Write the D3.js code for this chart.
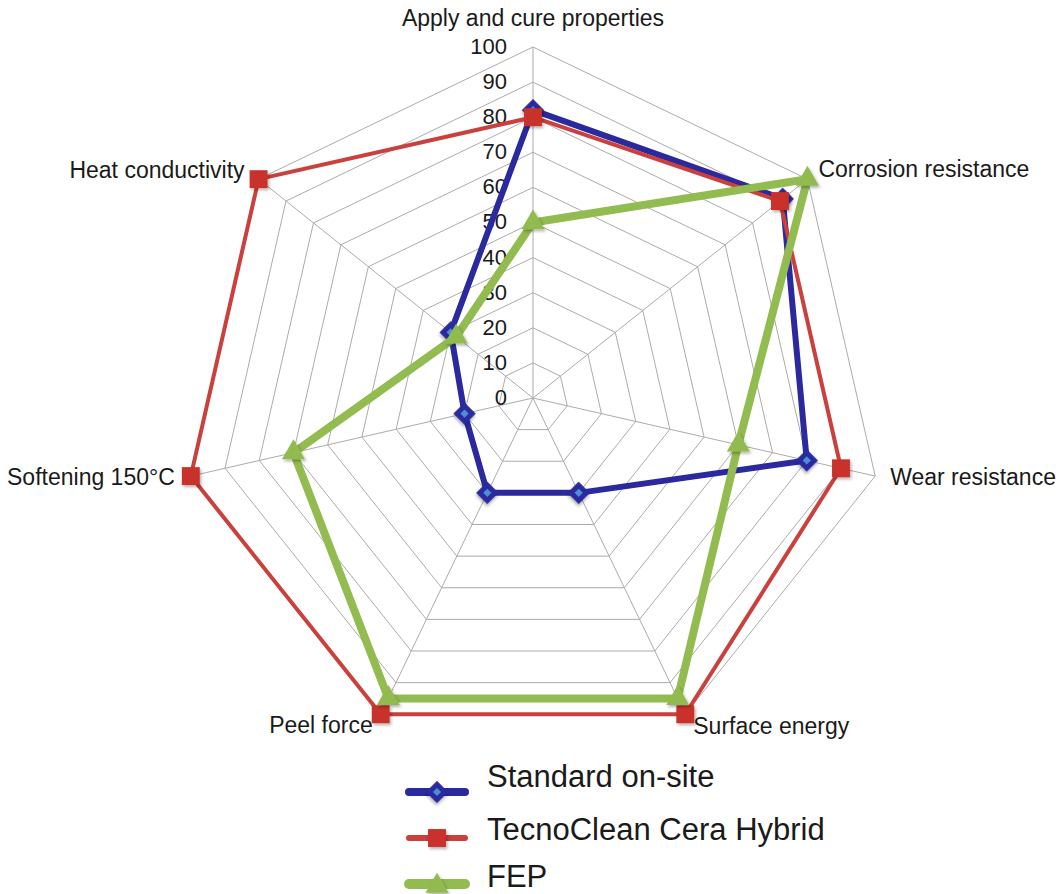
<!DOCTYPE html>
<html>
<head>
<meta charset="utf-8">
<script src="https://cdn.jsdelivr.net/npm/d3@7"></script>
<style>
  html, body { margin: 0; padding: 0; background: #fff; }
  svg { display: block; }
  text { font-family: "Liberation Sans", Arial, sans-serif; fill: #1a1a1a; }
</style>
</head>
<body>
<svg id="chart" width="1056" height="894"></svg>
<script>
// ---- data ----
const categories = ["Apply and cure properties", "Corrosion resistance", "Wear resistance",
  "Surface energy", "Peel force", "Softening 150°C", "Heat conductivity"];
const standardOnSite = [82, 91, 80, 30, 30, 20, 30];
const tecnoCleanCeraHybrid = [80, 90, 90, 100, 100, 100, 100];
const fep = [50, 100, 60, 95, 95, 70, 28];
const tickValues = [0, 10, 20, 30, 40, 50, 60, 70, 80, 90, 100];
const seriesNames = ["Standard on-site", "TecnoClean Cera Hybrid", "FEP"];

// ---- layout ----
const W = 1056, H = 894;
const cx = 533, cy = 398, R = 351;
const svg = d3.select("#chart");
const r = d3.scaleLinear().domain([0, 100]).range([0, R]);
const angle = d3.scaleLinear().domain([0, categories.length]).range([0, 2 * Math.PI]);
const px = (i, v) => cx + r(v) * Math.sin(angle(i));
const py = (i, v) => cy - r(v) * Math.cos(angle(i));

// shadow filter
const defs = svg.append("defs");
const f = defs.append("filter").attr("id", "sh").attr("x", "-50%").attr("y", "-50%").attr("width", "200%").attr("height", "200%");
f.append("feDropShadow").attr("dx", 1.5).attr("dy", 2).attr("stdDeviation", 1.5)
  .attr("flood-color", "#000").attr("flood-opacity", 0.3);

// ---- grid ----
const gridColor = "#ababab";
const grid = svg.append("g");
tickValues.filter(t => t > 0).forEach(t => {
  const pts = categories.map((c, i) => [px(i, t), py(i, t)]);
  grid.append("polygon")
    .attr("points", pts.map(p => p.join(",")).join(" "))
    .attr("fill", "none").attr("stroke", gridColor).attr("stroke-width", 1);
});
categories.forEach((c, i) => {
  grid.append("line")
    .attr("x1", cx).attr("y1", cy)
    .attr("x2", px(i, 100)).attr("y2", py(i, 100))
    .attr("stroke", gridColor).attr("stroke-width", 1);
});

// tick labels
svg.append("g").selectAll("text").data(tickValues).join("text")
  .attr("x", cx - 26).attr("y", d => cy - r(d) - 1)
  .attr("dy", "0.36em")
  .attr("text-anchor", "end")
  .attr("font-size", 22)
  .text(d => d);

// axis labels
const labelOffsets = [
  { dx: 0, dy: -21, anchor: "middle", base: "auto" },
  { dx: 11, dy: -10, anchor: "start", base: "middle" },
  { dx: 15, dy: 1, anchor: "start", base: "middle" },
  { dx: 8, dy: 20, anchor: "start", base: "auto" },
  { dx: -8, dy: 19, anchor: "end", base: "auto" },
  { dx: -16, dy: 1, anchor: "end", base: "middle" },
  { dx: -14, dy: -9, anchor: "end", base: "middle" }
];
svg.append("g").selectAll("text").data(categories).join("text")
  .attr("x", (d, i) => px(i, 100) + labelOffsets[i].dx)
  .attr("y", (d, i) => py(i, 100) + labelOffsets[i].dy)
  .attr("dy", (d, i) => labelOffsets[i].base === "middle" ? "0.36em" : 0)
  .attr("text-anchor", (d, i) => labelOffsets[i].anchor)
  .attr("font-size", 23)
  .text(d => d);

// ---- series ----
const blue = "#2a2a9e", blueLight = "#4a8fd4";
const red = "#c9403c", redFill = "#c8302c";
const green = "#92bb50";

const styles = [
  { color: blue, width: 6, marker: "diamond" },
  { color: red, width: 4, marker: "square" },
  { color: green, width: 8, marker: "triangle" }
];
const allSeries = [standardOnSite, tecnoCleanCeraHybrid, fep];
const radial = d3.lineRadial().angle((d, i) => angle(i)).radius(d => r(d)).curve(d3.curveLinearClosed);

function drawMarker(g, type, x, y, scale) {
  scale = scale || 1;
  if (type === "diamond") {
    g.append("path").attr("d", d3.symbol(d3.symbolSquare, 250 * scale * scale)())
      .attr("transform", `translate(${x},${y}) rotate(45)`)
      .attr("fill", blue).attr("filter", "url(#sh)");
    g.append("path").attr("d", d3.symbol(d3.symbolSquare, 34 * scale * scale)())
      .attr("transform", `translate(${x},${y}) rotate(45)`)
      .attr("fill", blueLight);
  } else if (type === "square") {
    g.append("path").attr("d", d3.symbol(d3.symbolSquare, 320 * scale * scale)())
      .attr("transform", `translate(${x},${y})`)
      .attr("fill", redFill).attr("filter", "url(#sh)");
  } else {
    g.append("path").attr("d", d3.symbol(d3.symbolTriangle, 230 * scale * scale)())
      .attr("transform", `translate(${x},${y})`)
      .attr("fill", green).attr("filter", "url(#sh)");
  }
}

allSeries.forEach((vals, s) => {
  const g = svg.append("g");
  g.append("path")
    .attr("transform", `translate(${cx},${cy})`)
    .attr("d", radial(vals))
    .attr("fill", "none")
    .attr("stroke", styles[s].color)
    .attr("stroke-width", styles[s].width)
    .attr("stroke-linejoin", "round");
  vals.forEach((v, i) => drawMarker(g, styles[s].marker, px(i, v), py(i, v)));
});

// ---- legend ----
const legendLineY = [792, 838, 884];
const legendTextY = [787, 840, 887];
const lg = svg.append("g");
seriesNames.forEach((name, s) => {
  lg.append("line")
    .attr("x1", 409).attr("x2", 465)
    .attr("y1", legendLineY[s]).attr("y2", legendLineY[s])
    .attr("stroke", styles[s].color).attr("stroke-width", styles[s].width + 2)
    .attr("stroke-linecap", "round");
  drawMarker(lg, styles[s].marker, 437, legendLineY[s] + (s === 2 ? 2 : 0), 1);
  lg.append("text")
    .attr("x", 487).attr("y", legendTextY[s])
    .attr("font-size", 31)
    .text(name);
});
</script>
</body>
</html>
